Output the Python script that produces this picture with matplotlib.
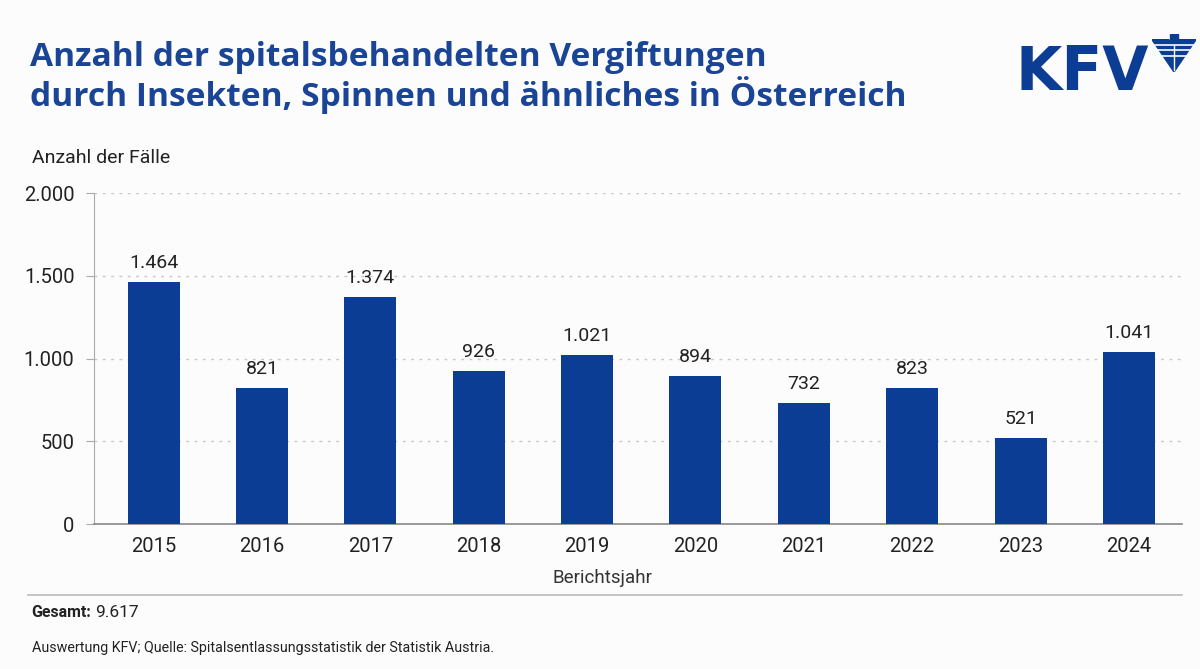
import matplotlib.pyplot as plt

# Daten aus der Grafik
jahre = ["2015", "2016", "2017", "2018", "2019", "2020", "2021", "2022", "2023", "2024"]
faelle = [1464, 821, 1374, 926, 1021, 894, 732, 823, 521, 1041]
y_ticks = [0, 500, 1000, 1500, 2000]
gesamt = "9.617"

BLAU = "#0b3d94"
TITEL_BLAU = "#1a4496"
TEXT = "#222222"
HG = "#fcfcfd"


def de_format(v):
    return f"{v:,}".replace(",", ".")


plt.rcParams["font.family"] = ["Roboto", "DejaVu Sans"]

fig = plt.figure(figsize=(12, 6.69), dpi=100, facecolor=HG)
ax = fig.add_axes([0.0783, 0.2167, 0.9067, 0.4948], facecolor=HG)

x = range(len(jahre))
ax.bar(x, faelle, width=0.48, color=BLAU, zorder=3)
for xi, v in zip(x, faelle):
    ax.text(xi, v + 60, de_format(v), ha="center", va="bottom",
            fontsize=14, color=TEXT)

ax.set_xlim(-0.55, 9.49)
ax.set_ylim(0, 2000)
ax.set_xticks(list(x))
ax.set_xticklabels(jahre, fontsize=14.5, color=TEXT)
ax.set_yticks(y_ticks)
ax.set_yticklabels([de_format(t) for t in y_ticks], fontsize=14.5, color=TEXT)
ax.tick_params(axis="x", length=0, pad=9)
ax.tick_params(axis="y", length=6, color="#aaaaaa", pad=8)
ax.grid(axis="y", linestyle=(0, (2, 4)), color="#c8c8c8", linewidth=1, zorder=0)
for s in ["top", "right"]:
    ax.spines[s].set_visible(False)
ax.spines["left"].set_color("#aaaaaa")
ax.spines["bottom"].set_color("#888888")
ax.spines["bottom"].set_linewidth(1.2)

ax.set_xlabel("Berichtsjahr", fontsize=13.5, color="#333333", labelpad=9)
ax.xaxis.set_label_coords(0.467, -0.135)

# Titel
fig.text(0.025, 0.830, "Anzahl der spitalsbehandelten Vergiftungen\n"
         "durch Insekten, Spinnen und ähnliches in Österreich",
         fontsize=24.1, fontweight="bold", color=TITEL_BLAU,
         family=["Open Sans", "DejaVu Sans"], va="bottom", linespacing=1.05)

# Logo: Schriftzug plus stilisierter Adler
fig.text(0.846, 0.89, "KFV", fontsize=43, fontweight="bold", color=BLAU,
         family=["DejaVu Sans"], va="center")
logo = fig.add_axes([1152 / 1200, 1 - 72 / 669, 44 / 1200, 38 / 669])
logo.set_xlim(0, 1)
logo.set_ylim(0, 1)
logo.axis("off")
logo.fill([0, 0.38, 0.5, 0.62, 1, 0.5], [0.85, 0.85, 0.7, 0.85, 0.85, 0.0], color=BLAU)
logo.fill([0.42, 0.58, 0.58, 0.42], [0.75, 0.75, 1.0, 1.0], color=BLAU)
for yy in [0.42, 0.58, 0.72]:
    logo.plot([0.05, 0.95], [yy, yy], color=HG, linewidth=1.2)
logo.plot([0.5, 0.5], [0.05, 0.72], color=HG, linewidth=1.0)

fig.text(0.027, 0.764, "Anzahl der Fälle", fontsize=14, color=TEXT, va="center")

# Trennlinie und Fußzeile
fig.add_artist(plt.Line2D([0.023, 0.985], [0.111, 0.111], color="#bbbbbb", linewidth=1.2))
fig.text(0.026, 0.085, "Gesamt:", fontsize=11.5, fontweight="bold", color=TEXT, va="center")
fig.text(0.079, 0.085, gesamt, fontsize=12.5, color=TEXT, va="center")
fig.text(0.027, 0.031, "Auswertung KFV; Quelle: Spitalsentlassungsstatistik der Statistik Austria.",
         fontsize=10.3, color=TEXT, va="center")

fig.savefig("out.png", dpi=100, facecolor=fig.get_facecolor())
